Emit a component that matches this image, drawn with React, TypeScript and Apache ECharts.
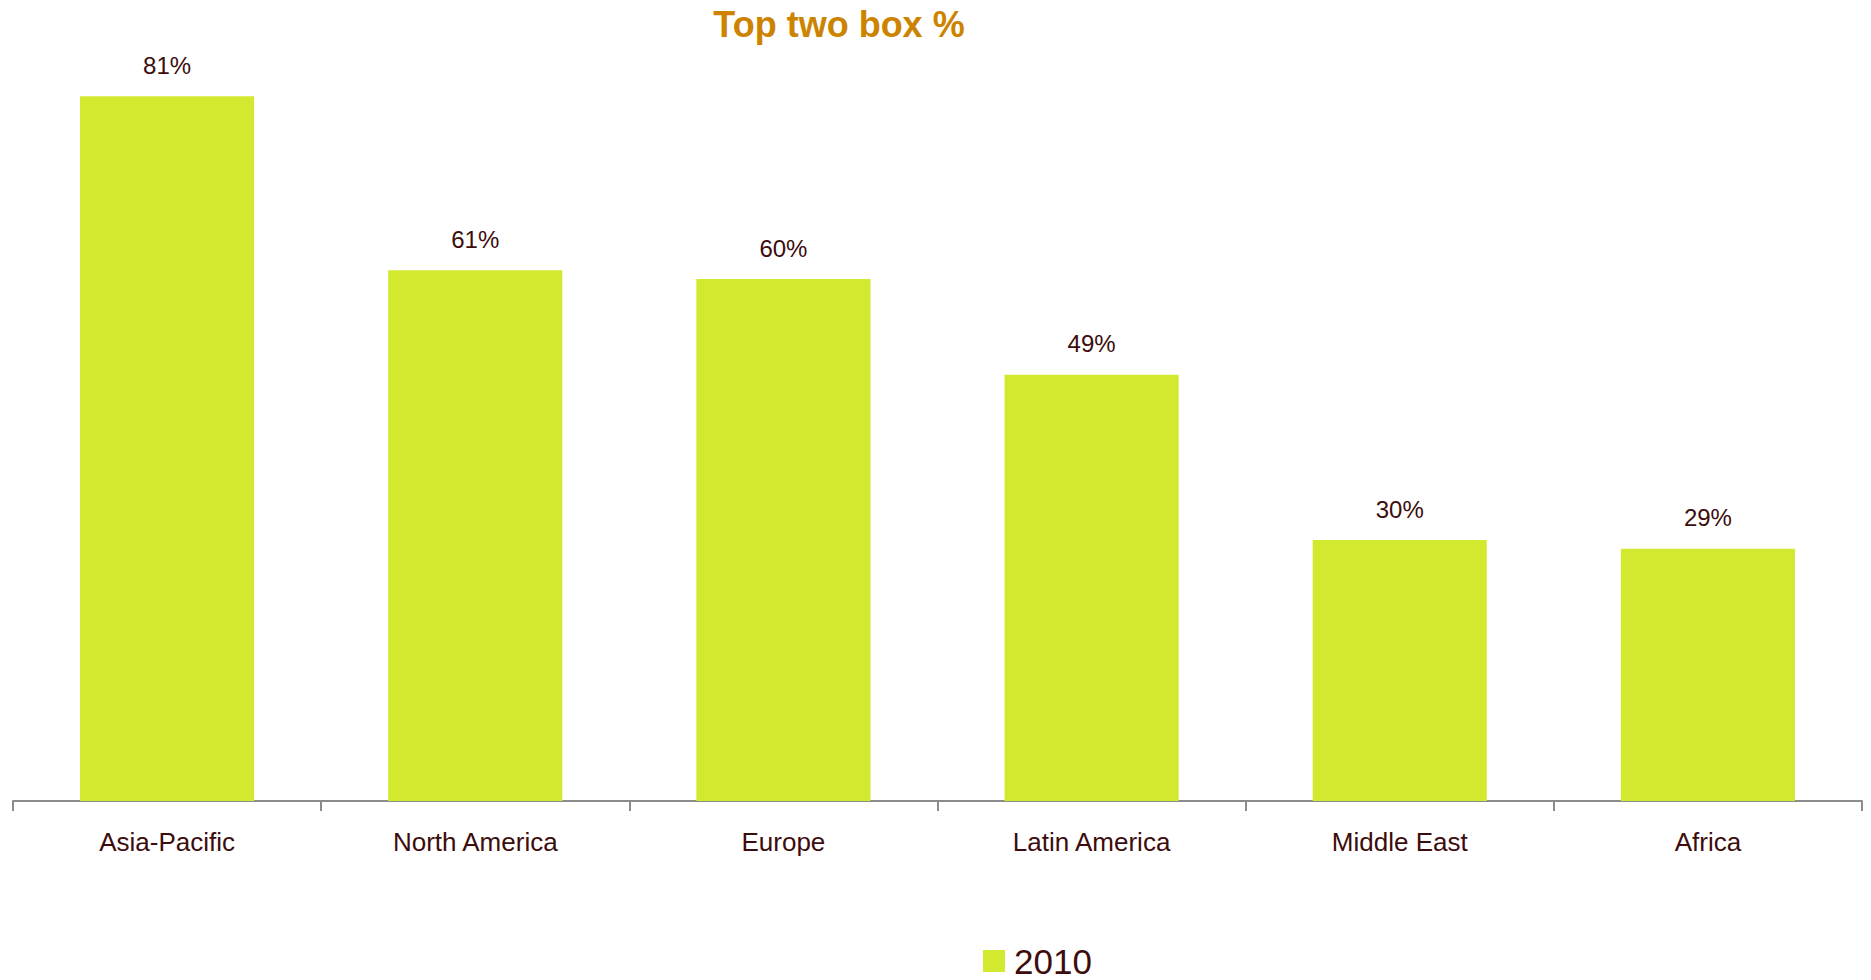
import React, { useEffect, useRef } from "react";
import * as echarts from "echarts";

const categories = ["Asia-Pacific", "North America", "Europe", "Latin America", "Middle East", "Africa"];
const values2010 = [81, 61, 60, 49, 30, 29];
const seriesName = "2010";
const titleText = "Top two box %";

export default function App() {
  const ref = useRef<HTMLDivElement>(null);
  useEffect(() => {
    document.body.style.margin = "0";
    const chart = echarts.init(ref.current!, undefined, { renderer: "svg" });
    const textColor = "#3d0c0c";
    chart.setOption({
      animation: false,
      backgroundColor: "#ffffff",
      title: {
        text: titleText,
        left: 834,
        textAlign: "center",
        top: 1,
        textStyle: { fontFamily: "Liberation Sans, Arial", fontSize: 36, fontWeight: "bold", color: "#cc8400" },
      },
      legend: {
        data: [seriesName],
        left: 983,
        top: 943,
        padding: 0,
        icon: "rect",
        itemWidth: 22,
        itemHeight: 22,
        itemGap: 10,
        textStyle: { fontFamily: "Liberation Sans, Arial", fontSize: 35, lineHeight: 36, color: textColor, padding: [0, 0, 0, 4] },
      },
      grid: { left: 13, right: 9, top: 18, bottom: 179, containLabel: false },
      xAxis: {
        type: "category",
        data: categories,
        axisLine: { lineStyle: { color: "#8c8c8c", width: 2 } },
        axisTick: { show: true, length: 10, lineStyle: { color: "#8c8c8c", width: 2 } },
        axisLabel: { fontFamily: "Liberation Sans, Arial", fontSize: 26, color: textColor, margin: 28 },
      },
      yAxis: {
        type: "value",
        min: 0,
        max: 90,
        show: false,
        splitLine: { show: false },
      },
      series: [
        {
          name: seriesName,
          type: "bar",
          data: values2010,
          barWidth: "56.5%",
          itemStyle: { color: "#d3e92f" },
          label: {
            show: true,
            position: "top",
            distance: 19,
            formatter: "{c}%",
            fontFamily: "Liberation Sans, Arial",
            fontSize: 24,
            color: textColor,
          },
        },
      ],
    });
    return () => chart.dispose();
  }, []);
  return <div ref={ref} style={{ position: "absolute", left: 0, top: 0, width: 1871, height: 980 }} />;
}
